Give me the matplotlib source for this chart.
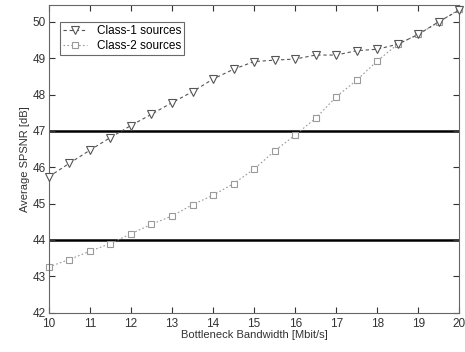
import matplotlib
matplotlib.use("Agg")
import matplotlib.pyplot as plt
from matplotlib.lines import Line2D

bandwidth = [10, 10.5, 11, 11.5, 12, 12.5, 13, 13.5, 14, 14.5, 15, 15.5, 16,
             16.5, 17, 17.5, 18, 18.5, 19, 19.5, 20]
class1 = [45.74, 46.11, 46.47, 46.82, 47.15, 47.46, 47.78, 48.08, 48.43, 48.70,
          48.91, 48.95, 48.98, 49.09, 49.09, 49.21, 49.25, 49.39, 49.66, 50.01, 50.33]
class2 = [43.26, 43.46, 43.69, 43.90, 44.17, 44.43, 44.66, 44.97, 45.23, 45.55,
          45.95, 46.45, 46.89, 47.35, 47.94, 48.40, 48.93, 49.39, 49.66, 50.0, 50.35]
thresholds = [47, 44]
xticks = list(range(10, 21))
yticks = list(range(42, 51))

plt.rcParams['font.family'] = ['Liberation Sans', 'DejaVu Sans']
fig = plt.figure(figsize=(4.65, 3.52), dpi=100)
ax = fig.add_axes([0.105, 0.112, 0.883, 0.874])

for t in thresholds:
    ax.axhline(t, color='black', lw=1.8, zorder=1)

ax.plot(bandwidth, class1, linestyle=(0, (3, 2.5)), color='#555555', lw=0.8,
        marker='v', markersize=6, markerfacecolor='white', markeredgecolor='#555555',
        markeredgewidth=0.8, zorder=3, clip_on=False)
ax.plot(bandwidth, class2, linestyle=(0, (1.5, 2)), color='#9a9a9a', lw=0.8,
        marker='s', markersize=5, markerfacecolor='white', markeredgecolor='#9a9a9a',
        markeredgewidth=0.8, zorder=2, clip_on=False)

ax.set_xlim(10, 20)
ax.set_ylim(42, 50.47)
ax.set_xticks(xticks)
ax.set_yticks(yticks)
ax.tick_params(direction='in', length=4, width=0.8, labelsize=8.5, colors='#333333',
               top=True, right=True, pad=2)
ax.tick_params(axis='x', pad=4)
for s in ax.spines.values():
    s.set_color('#666666')
    s.set_linewidth(0.8)

ax.set_xlabel('Bottleneck Bandwidth [Mbit/s]', fontsize=8, labelpad=0, color='#333333')
ax.set_ylabel('Average SPSNR [dB]', fontsize=8, labelpad=2, color='#333333')

handles = [
    Line2D([], [], linestyle=(0, (3, 2.5)), color='#555555', lw=0.8, marker='v',
           markersize=6, markerfacecolor='white', markeredgecolor='#555555', markeredgewidth=0.8),
    Line2D([], [], linestyle=(0, (1.5, 2)), color='#9a9a9a', lw=0.8, marker='s',
           markersize=5, markerfacecolor='white', markeredgecolor='#9a9a9a', markeredgewidth=0.8),
]
leg = ax.legend(handles, ['Class-1 sources', 'Class-2 sources'], loc='upper left',
                bbox_to_anchor=(0.027, 0.945), fontsize=8.5, frameon=True, fancybox=False,
                edgecolor='#444444', handlelength=2.0, handletextpad=0.8,
                borderpad=0.3, labelspacing=0.2, borderaxespad=0)
leg.get_frame().set_linewidth(0.8)

fig.savefig('out.png', dpi=100)
